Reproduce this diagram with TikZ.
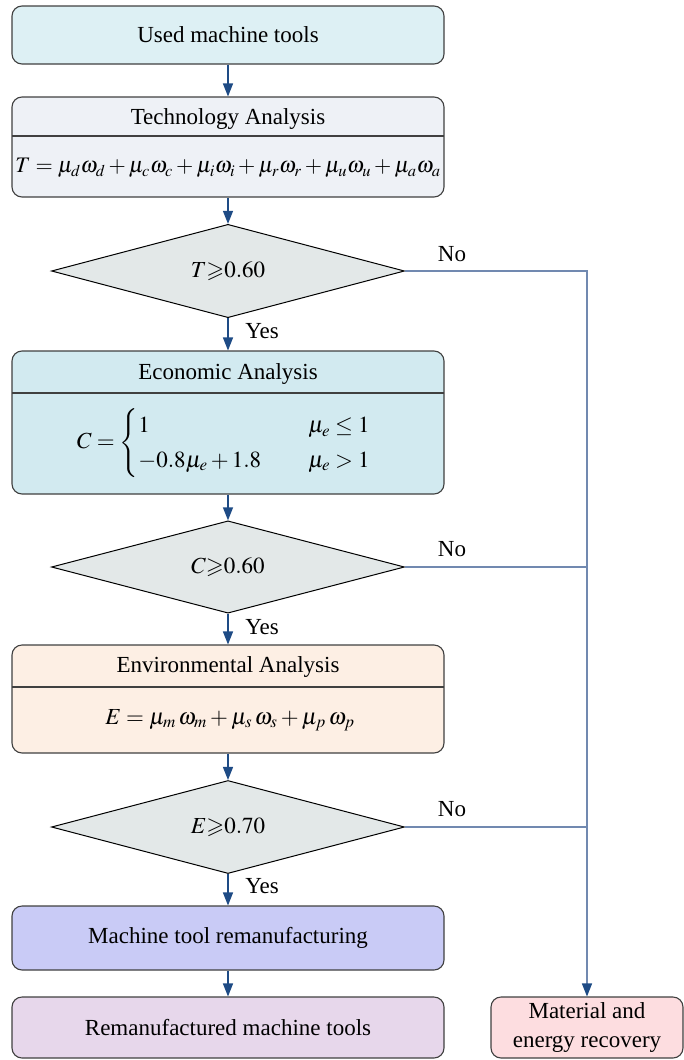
\documentclass[tikz,border=0pt]{standalone}
\usepackage{amsmath,amssymb}
\usepackage{mathptmx}
\usepackage{fontspec}
\setmainfont{Liberation Serif}
\usetikzlibrary{shapes.geometric,arrows.meta}
\definecolor{cused}{HTML}{DDF0F4}
\definecolor{ctech}{HTML}{EEF1F6}
\definecolor{cdec}{HTML}{E3E8E8}
\definecolor{cecon}{HTML}{D2EAF0}
\definecolor{cenv}{HTML}{FDEFE4}
\definecolor{cremf}{HTML}{C9CBF6}
\definecolor{cremd}{HTML}{E7D7EB}
\definecolor{cmat}{HTML}{FDDDE0}
\definecolor{arrcol}{HTML}{1E4B85}
\definecolor{nocol}{HTML}{7189B0}
\definecolor{boxline}{HTML}{404040}
\newcommand\fsz{\fontsize{23}{29}\selectfont}
\newcommand\msz{\fontsize{23}{29}\selectfont}
\newcommand\tsz{\fontsize{22.2}{29}\selectfont}
\begin{document}
\begin{tikzpicture}[x=1pt,y=-1pt,
  box/.style={draw=boxline, line width=1.1pt, rounded corners=10pt, minimum width=432pt, inner sep=0pt, font=\fsz, align=center},
  dec/.style={diamond, draw=black, line width=1pt, fill=cdec, minimum width=353pt, minimum height=80pt, inner sep=0pt, font=\fsz},
  arr/.style={draw=arrcol, line width=1.3pt, -{Triangle[width=10pt,length=13pt]}},
  noline/.style={draw=nocol, line width=1.3pt},
  lbl/.style={font=\fsz, inner sep=0pt},
  mth/.style={font=\msz, inner sep=0pt},
  divline/.style={draw=boxline, line width=1.1pt}]
\useasboundingbox (0,0) rectangle (684,1060);
% boxes
\node[box, fill=cused, minimum height=58pt] (used) at (228,35) {Used machine tools};
\node[box, fill=ctech, minimum height=100pt] (tech) at (228,147) {};
\node[lbl] (techt) at (228,119) {Technology Analysis};
\node[mth, font=\tsz] (techf) at (228,168) {$T=\mu_d\omega_d+\mu_c\omega_c+\mu_i\omega_i+\mu_r\omega_r+\mu_u\omega_u+\mu_a\omega_a$};
\draw[divline] (12,136) -- (444,136);
\node[dec] (d1) at (228,271) {$T{\geqslant}0.60$};
\node[box, fill=cecon, minimum height=143pt] (econ) at (228,422.5) {};
\node[lbl] (econt) at (228,374) {Economic Analysis};
\node[mth] (econf) at (224,443) {$C=\begin{cases}1 & \hspace{24pt}\mu_e\le 1\\ -0.8\mu_e+1.8 & \hspace{24pt}\mu_e>1\end{cases}$};
\draw[divline] (12,393) -- (444,393);
\node[dec] (d2) at (228,567) {$C{\geqslant}0.60$};
\node[box, fill=cenv, minimum height=108pt] (env) at (228,699) {};
\node[lbl] (envt) at (228,667) {Environmental Analysis};
\node[mth] (envf) at (230,720) {$E=\mu_m\,\omega_m+\mu_s\,\omega_s+\mu_p\,\omega_p$};
\draw[divline] (12,687) -- (444,687);
\node[dec] (d3) at (228,827) {$E{\geqslant}0.70$};
\node[box, fill=cremf, minimum height=64pt] (remf) at (228,938) {Machine tool remanufacturing};
\node[box, fill=cremd, minimum height=61pt] (remd) at (228,1027.5) {Remanufactured machine tools};
\node[box, fill=cmat, minimum height=61pt, minimum width=192pt] (mat) at (587,1027.5) {Material and\\energy recovery};
% arrows
\draw[arr] (used.south) -- (tech.north);
\draw[arr] (tech.south) -- (d1.north);
\draw[arr] (d1.south) -- (econ.north);
\draw[arr] (econ.south) -- (d2.north);
\draw[arr] (d2.south) -- (env.north);
\draw[arr] (env.south) -- (d3.north);
\draw[arr] (d3.south) -- (remf.north);
\draw[arr] (remf.south) -- (remd.north);
\draw[noline, -{Triangle[width=10pt,length=13pt,color=arrcol]}] (d1.east) -| (mat.north);
\draw[noline] (d2.east) -- (d2.east -| mat.north);
\draw[noline] (d3.east) -- (d3.east -| mat.north);
% labels
\node[lbl] (y1) at (262,331) {Yes};
\node[lbl] (y2) at (262,627) {Yes};
\node[lbl] (y3) at (262,886) {Yes};
\node[lbl] (n1) at (452,254) {No};
\node[lbl] (n2) at (452,549) {No};
\node[lbl] (n3) at (452,809) {No};
\end{tikzpicture}
\end{document}
